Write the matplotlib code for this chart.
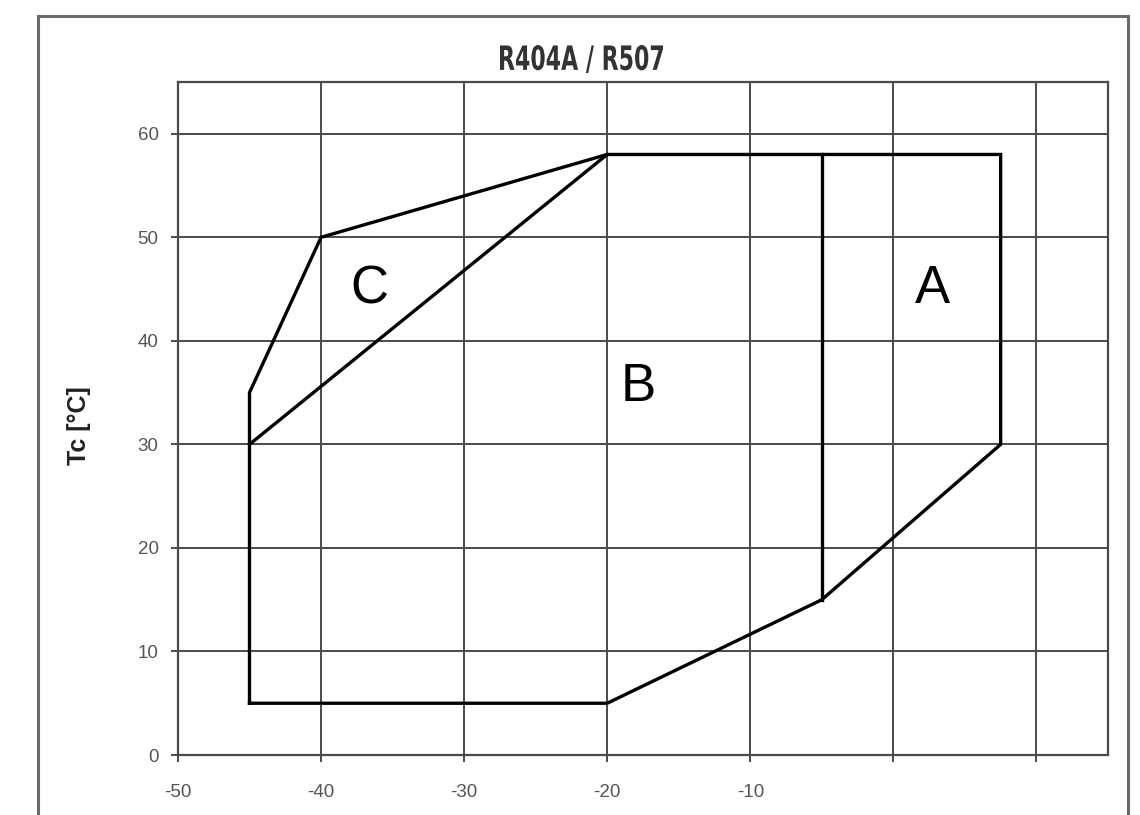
"""Operating envelope R404A / R507 (Te vs Tc)."""

import matplotlib.pyplot as plt
from matplotlib.patches import Rectangle, PathPatch
from matplotlib.textpath import TextPath
from matplotlib.font_manager import FontProperties
from matplotlib.transforms import Affine2D, IdentityTransform

# envelope outline (Te, Tc)
outline_te = [-45, -20, -5, 7.5, 7.5, -20, -40, -45, -45]
outline_tc = [5, 5, 15, 30, 58, 58, 50, 35, 5]

# A / B split line
split_ab_te = [-5, -5]
split_ab_tc = [15, 58]

# B / C split line
split_bc_te = [-45, -20]
split_bc_tc = [30, 58]

zone_names = ['C', 'B', 'A']
zone_te = [-36.6, -17.8, 2.7]
zone_tc = [45, 35.5, 45]

x_ticks = [-50, -40, -30, -20, -10, 0, 10]
x_labels = ['-50', '-40', '-30', '-20', '-10', '', '']
y_ticks = [0, 10, 20, 30, 40, 50, 60]

W, H = 1140, 815
fig = plt.figure(figsize=(W / 100, H / 100), dpi=100)
ax = fig.add_axes([0.1561, 0.0736, 0.8158, 0.8258])

# grey frame round the whole chart (bottom is cut off in the source)
fig.patches.append(Rectangle((0.0333, -0.05), 0.9562, 1.0304, transform=fig.transFigure,
                             fill=False, edgecolor='#6a6a6a', linewidth=2.2))

ax.set_xlim(-50, 15)
ax.set_ylim(0, 65)
ax.set_xticks(x_ticks)
ax.set_xticklabels(x_labels)
ax.set_yticks(y_ticks)
ax.grid(True, color='#4a4a4a', linewidth=1.4)
ax.set_axisbelow(True)
for s in ax.spines.values():
    s.set_color('#4a4a4a')
    s.set_linewidth(1.6)
ax.tick_params(direction='out', length=5, width=1.4, color='#4a4a4a',
               labelsize=13.5, labelcolor='#555555')
ax.tick_params(axis='x', pad=16)
ax.tick_params(axis='y', pad=9)
for lab in ax.get_xticklabels() + ax.get_yticklabels():
    lab.set_family(['Liberation Sans', 'DejaVu Sans'])

ax.plot(outline_te, outline_tc, color='black', linewidth=2.4, solid_joinstyle='miter')
ax.plot(split_ab_te, split_ab_tc, color='black', linewidth=2.4)
ax.plot(split_bc_te, split_bc_tc, color='black', linewidth=2.4)

for name, te, tc in zip(zone_names, zone_te, zone_tc):
    ax.text(te, tc, name, fontsize=38, ha='center', va='center',
            family=['Liberation Sans', 'DejaVu Sans'], color='black')

# title in a condensed bold face: squeeze a text path into the box it fills
tp = TextPath((0, 0), 'R404A / R507', size=40,
              prop=FontProperties(family='DejaVu Sans', weight='bold'))
ext = tp.get_extents()
box_l, box_r, box_top, box_bot = 500, 663, 45, 73   # pixels, from top-left
sx = (box_r - box_l) / ext.width
sy = (box_bot - box_top) / ext.height
tr = Affine2D().translate(-ext.x0, -ext.y0).scale(sx, sy).translate(box_l, H - box_bot)
fig.patches.append(PathPatch(tp, transform=tr + IdentityTransform(),
                             facecolor='#333333', edgecolor='none'))

ax.set_ylabel('Tc [°C]', fontsize=18, fontweight='bold', color='#222222',
              family=['Liberation Sans', 'DejaVu Sans'])
ax.yaxis.set_label_coords(-0.094, 0.49)

fig.savefig('out.png', dpi=100)
